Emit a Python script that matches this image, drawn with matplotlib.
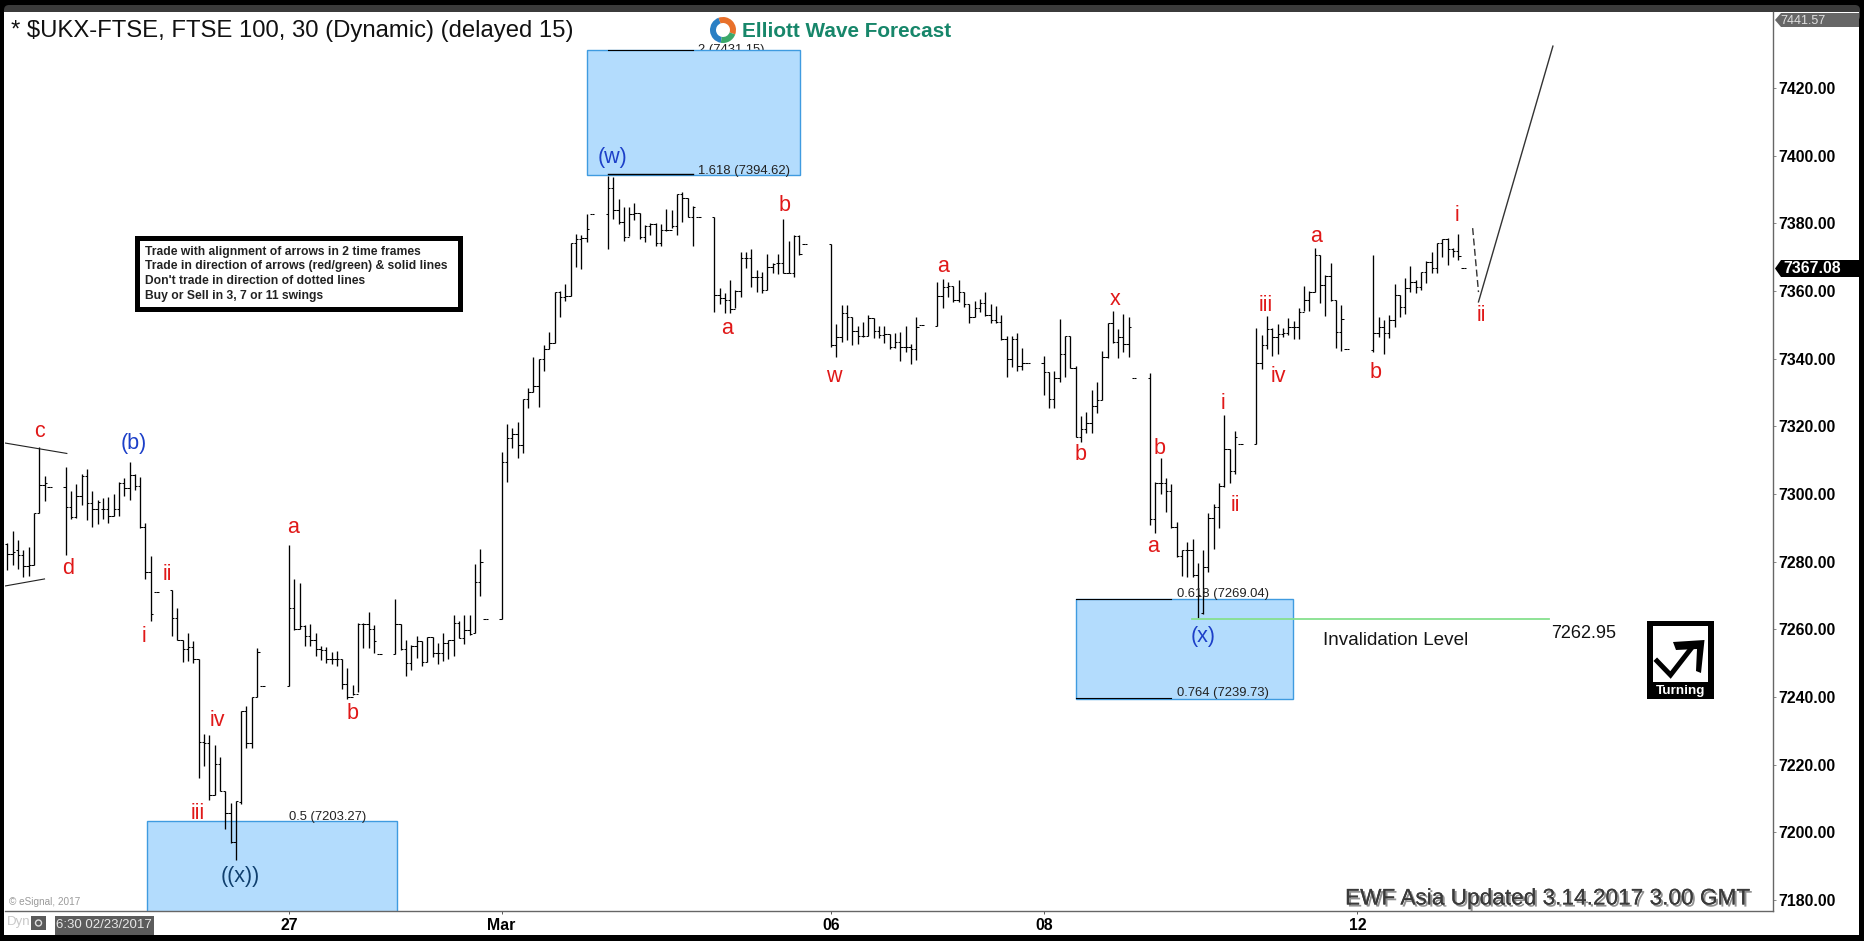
import matplotlib
matplotlib.use("Agg")
import matplotlib.pyplot as plt
import matplotlib.patheffects as pe
from matplotlib.patches import Rectangle, Polygon, Wedge, Circle, FancyBboxPatch
import numpy as np

plt.rcParams["font.family"] = ["Liberation Sans", "DejaVu Sans"]

# one row per trading session, 30 min bars
session_start = [-53, -42, -22, 0, 20, 40, 60, 80, 102, 122, 142, 162, 182, 204]
session_len = [9, 18, 18, 18, 18, 18, 18, 18, 18, 18, 18, 18, 18, 18]

bar_high = [
    7285.5, 7289, 7286.4, 7283.4, 7284.2, 7294.5, 7313.8, 7305.4, 7302,
    7307.9, 7300.8, 7303, 7305.9, 7307.4, 7300.8, 7298.2, 7298.9, 7299.2, 7300.1, 7303.5, 7304.7, 7309.6, 7305.9, 7305.1, 7291.4, 7281.7, 7271.1,
    7271.5, 7266.3, 7256.9, 7258.9, 7256.7, 7251.1, 7229.1, 7228.9, 7225.8, 7222.2, 7212.3, 7208.7, 7209.2, 7236, 7237.2, 7239.9, 7254.4, 7243.4,
    7285, 7274.8, 7273.7, 7261.3, 7261.5, 7258.9, 7255, 7254.8, 7253.3, 7253.5, 7251.1, 7248.7, 7243.6, 7262, 7262, 7265.1, 7261.3, 7252.6,
    7269.1, 7261.6, 7257, 7255.4, 7258, 7256.7, 7257.8, 7257.6, 7256.1, 7258.8, 7257, 7264.1, 7262.6, 7264.1, 7264.1, 7279.3, 7283.9, 7263.1,
    7312.5, 7320.6, 7319.4, 7321.4, 7328.1, 7331.2, 7340.4, 7339.8, 7344.2, 7347.8, 7359.8, 7360, 7362, 7374.1, 7376.9, 7376.6, 7382.7, 7382.7,
    7394.1, 7393.8, 7387.1, 7384.7, 7384.9, 7386.1, 7383.2, 7379.5, 7380.2, 7380.2, 7379.8, 7384.4, 7383.9, 7388.7, 7389.2, 7387.6, 7385.2, 7382,
    7382, 7360.8, 7359.3, 7363.2, 7360.3, 7371.4, 7371.4, 7372.3, 7366.2, 7365.5, 7370.9, 7368.2, 7371.1, 7381.3, 7374.9, 7376.7, 7376.5, 7373.8,
    7373.9, 7350.3, 7355.9, 7355.9, 7352.2, 7349.7, 7351, 7352.9, 7351.9, 7349.7, 7349.7, 7347.3, 7347.7, 7348, 7349.7, 7344.3, 7352.2, 7349.9,
    7362.7, 7363.5, 7362.6, 7361.6, 7363.3, 7359.7, 7356.1, 7357.1, 7357.6, 7359.6, 7356.2, 7355.6, 7352.9, 7346.8, 7346.7, 7347.5, 7343.1, 7338.6,
    7340.8, 7336.2, 7336.4, 7351.7, 7346.8, 7346.7, 7337.8, 7323.1, 7324.3, 7330.8, 7333, 7342.3, 7350.7, 7354.1, 7348.7, 7353.2, 7352.2, 7334.2,
    7335.9, 7303.6, 7310.8, 7304.6, 7302.9, 7291.8, 7283.5, 7285.9, 7286.6, 7279.5, 7283.5, 7294.3, 7297, 7303.4, 7323.3, 7313.3, 7318.6, 7314.7,
    7349, 7347, 7352.6, 7349, 7350.4, 7349, 7351.9, 7351.2, 7354.9, 7361.5, 7360.1, 7372.6, 7370.6, 7364.7, 7368.2, 7357.5, 7355.9, 7342.8,
    7370.8, 7352.4, 7351.4, 7352.9, 7362.1, 7358.8, 7364, 7367.4, 7363.3, 7365.7, 7368.9, 7371.6, 7374.1, 7375.3, 7375.6, 7372.6, 7377, 7366.7,
]
bar_low = [
    7277.6, 7279, 7277.8, 7275.6, 7275.8, 7279.1, 7294.3, 7298, 7302,
    7281.9, 7292.6, 7292.9, 7296.9, 7292.4, 7290.4, 7291.1, 7292.6, 7291.3, 7293.6, 7293.6, 7299.4, 7298.2, 7301.3, 7290.1, 7274.8, 7262.5, 7271.1,
    7258.1, 7256.9, 7250.3, 7250.5, 7250.1, 7216.1, 7219.7, 7209.5, 7211, 7212.2, 7201.1, 7196.9, 7191.9, 7208.5, 7224.8, 7224.8, 7239.9, 7243.4,
    7243.3, 7259.8, 7260, 7255.2, 7255.2, 7252.1, 7250.8, 7250.1, 7249.8, 7249.3, 7242.5, 7239.3, 7240.6, 7241.6, 7254.6, 7254.6, 7253.1, 7252.6,
    7252.6, 7253.9, 7246.2, 7248, 7251.4, 7249.3, 7250.4, 7251.9, 7249.8, 7250.7, 7251.3, 7252.2, 7257.3, 7255.6, 7258.3, 7258.8, 7270, 7263.1,
    7263.1, 7303.6, 7313.5, 7310.7, 7312, 7325.3, 7330.2, 7325.8, 7336.5, 7342.8, 7344.7, 7352.4, 7357.1, 7358.6, 7367.2, 7366.4, 7374.4, 7382.7,
    7372.3, 7381.2, 7379.8, 7374.9, 7376.2, 7381, 7375.3, 7374.6, 7376.5, 7373.4, 7373.4, 7377.8, 7378.5, 7376.7, 7380.5, 7381.8, 7373.4, 7382,
    7353.9, 7356.3, 7353.4, 7353.4, 7354.9, 7358.1, 7366.7, 7361.1, 7359.8, 7359.3, 7360.3, 7365.2, 7365, 7365.4, 7365.4, 7364.2, 7370.6, 7373.8,
    7343.4, 7340.6, 7345, 7345.5, 7344.1, 7344.3, 7346.3, 7346.7, 7346.2, 7346, 7344.7, 7342.8, 7343.1, 7339.4, 7342.1, 7338.4, 7339.6, 7349.9,
    7349.8, 7355.1, 7358.1, 7356.8, 7356.9, 7355.4, 7350.7, 7352.4, 7353.7, 7352.7, 7350.5, 7350.7, 7345.5, 7334.7, 7337.7, 7336.5, 7336.7, 7338.6,
    7329.3, 7325.5, 7325.3, 7333.2, 7334.7, 7337.2, 7317, 7315.5, 7317.9, 7317.9, 7324.1, 7327.8, 7340.1, 7344.7, 7340.1, 7342.1, 7340.6, 7334.2,
    7290.8, 7288.4, 7299.9, 7294.6, 7290.1, 7281.3, 7275.8, 7275.6, 7275.6, 7263.3, 7264.5, 7277, 7283.7, 7289.9, 7302.2, 7303.4, 7305.9, 7314.7,
    7314.7, 7337.1, 7342.9, 7340.9, 7341.4, 7346.5, 7347, 7345.8, 7345.8, 7354.1, 7354.1, 7359.6, 7356.6, 7352.6, 7357.1, 7343.3, 7342.4, 7342.8,
    7342.1, 7346.5, 7341.4, 7346, 7349.5, 7352.2, 7353.2, 7359.8, 7359.5, 7360.3, 7362.3, 7365.4, 7365.4, 7370, 7367.7, 7370, 7369.2, 7366.7,
]
bar_open = [
    7285.2, 7282.4, 7283.4, 7281.9, 7278.8, 7279.1, 7294.3, 7302.6, 7302,
    7302, 7296.2, 7293.1, 7299.4, 7305.2, 7297.4, 7295.7, 7295.7, 7295.7, 7293.6, 7295.7, 7303.3, 7301.8, 7305.6, 7302.3, 7290.3, 7277, 7271.1,
    7271.5, 7263.5, 7256.9, 7254.2, 7254.8, 7251.3, 7226.6, 7226.3, 7211, 7220.2, 7212.3, 7205.8, 7197.2, 7209, 7236, 7226.3, 7239.9, 7243.4,
    7243.3, 7266.2, 7260, 7261, 7257.9, 7256.9, 7254.2, 7253.8, 7251.3, 7251.3, 7251.1, 7243.8, 7240.1, 7241, 7261.7, 7261.5, 7260, 7252.6,
    7252.6, 7261.5, 7254.2, 7250, 7255.2, 7256.7, 7250.4, 7257.6, 7252.9, 7252.9, 7255.9, 7256.8, 7261.8, 7257.3, 7259.8, 7258.8, 7273.9, 7263.1,
    7263.1, 7309.4, 7316.5, 7317.6, 7314.5, 7328, 7330.2, 7331.9, 7339.8, 7342.8, 7344.7, 7359.8, 7358.3, 7358.6, 7374.1, 7375.3, 7375.6, 7382.7,
    7382.7, 7390.6, 7383.9, 7380.5, 7375.9, 7382.9, 7383.2, 7375.9, 7379.2, 7379.8, 7374.1, 7378, 7378, 7379.3, 7388.7, 7387.6, 7381.8, 7382,
    7382, 7358.8, 7358, 7357.3, 7354.7, 7360, 7369.9, 7369.9, 7364.2, 7364.2, 7360.3, 7367, 7368.2, 7368.2, 7365.4, 7365.4, 7376.2, 7373.8,
    7373.9, 7344, 7346.3, 7353.4, 7352.2, 7348.3, 7346.7, 7346.7, 7351.9, 7348.3, 7347, 7347.2, 7343.6, 7344.9, 7343.6, 7343.4, 7342.9, 7349.9,
    7349.8, 7358.5, 7361.3, 7361.6, 7357.4, 7359.7, 7356.1, 7352.4, 7354.9, 7356.6, 7352.9, 7351.4, 7350.9, 7345.7, 7339.8, 7345.7, 7337.9, 7338.6,
    7338.6, 7336.2, 7328.1, 7334.2, 7341.3, 7346.7, 7337.2, 7317, 7319.1, 7320.9, 7326, 7327.8, 7340.6, 7350.5, 7345, 7346.3, 7344.3, 7334.2,
    7334.2, 7292.5, 7303.4, 7303.4, 7300.9, 7290.2, 7281.7, 7283.5, 7283.5, 7276.1, 7264.7, 7278.3, 7292.8, 7296.3, 7302.4, 7313.3, 7306.9, 7314.7,
    7314.7, 7338.6, 7344, 7348.7, 7346.3, 7347.3, 7347.7, 7349.3, 7349.5, 7353.9, 7357.3, 7359.8, 7370.6, 7361.8, 7364.5, 7357.5, 7348, 7342.8,
    7342.6, 7347.7, 7349.5, 7347.5, 7351.4, 7358.8, 7355.4, 7360.8, 7362.8, 7361.3, 7365.5, 7368.5, 7366.9, 7374.1, 7375.3, 7372.3, 7371.9, 7366.7,
]
bar_close = [
    7282.4, 7282.9, 7281.9, 7278.8, 7279.1, 7294.3, 7302.6, 7303.3, 7302,
    7296.2, 7293.1, 7299.4, 7305.2, 7297.4, 7295.7, 7297.7, 7295.7, 7293.6, 7295.7, 7303.3, 7301.8, 7305.6, 7302.3, 7290.3, 7277, 7264.6, 7271.1,
    7263.5, 7256.9, 7254.2, 7254.8, 7251.3, 7226.6, 7226.3, 7211, 7220.2, 7212.3, 7205.8, 7197.2, 7209.2, 7236, 7226.3, 7239.9, 7253.3, 7243.4,
    7266.2, 7260, 7261, 7257.9, 7256.9, 7254.2, 7253.8, 7251.3, 7251.3, 7251.1, 7243.8, 7240.1, 7241, 7261.7, 7261.5, 7260, 7256.5, 7252.6,
    7261.5, 7254.2, 7250, 7255.2, 7256.7, 7250.4, 7257.6, 7252.9, 7252.9, 7255.9, 7256.8, 7261.8, 7257.3, 7259.8, 7258.6, 7273.9, 7280, 7263.1,
    7309.4, 7316.5, 7317.6, 7314.5, 7328, 7330.2, 7331.9, 7339.8, 7342.8, 7344.7, 7359.8, 7358.3, 7358.6, 7374.1, 7375.3, 7375.6, 7378.2, 7382.7,
    7390.6, 7383.9, 7380.5, 7375.9, 7382.9, 7383.2, 7375.9, 7379.2, 7379.8, 7374.1, 7378, 7378, 7379.3, 7388.7, 7387.6, 7381.8, 7384.7, 7382,
    7358.8, 7358, 7357.3, 7354.7, 7360, 7369.9, 7369.9, 7364.2, 7364.2, 7360.3, 7367, 7368, 7368.2, 7365.4, 7365.4, 7376.2, 7371.1, 7373.8,
    7344, 7346.3, 7353.4, 7352.2, 7348.3, 7346.7, 7346.7, 7351.9, 7348.3, 7347, 7347.2, 7343.6, 7344.9, 7343.6, 7343.4, 7342.9, 7349.3, 7349.9,
    7358.5, 7361.3, 7361.6, 7357.4, 7359.7, 7356.1, 7352.4, 7354.9, 7356.6, 7352.9, 7351.4, 7350.9, 7345.7, 7339.8, 7345.7, 7337.9, 7338.6, 7338.6,
    7336.2, 7328.1, 7334.2, 7341.3, 7346.7, 7337.2, 7317, 7319.1, 7320.9, 7326, 7327.8, 7340.6, 7350.5, 7345, 7346.3, 7344.3, 7349.3, 7334.2,
    7292.5, 7303.4, 7303.4, 7300.9, 7290.2, 7281.7, 7283.5, 7283.5, 7276.1, 7270.2, 7278.3, 7292.8, 7296.3, 7302.4, 7313.3, 7306.9, 7317, 7314.7,
    7338.6, 7344, 7348.7, 7346.3, 7347.3, 7347.7, 7349.3, 7349.5, 7353.9, 7357.3, 7359.8, 7370.6, 7361.8, 7364.5, 7357.5, 7348, 7351.7, 7342.8,
    7347.7, 7349.5, 7347.5, 7351.4, 7358.8, 7355.4, 7360.8, 7362.8, 7361.3, 7365.5, 7368.5, 7366.9, 7374.1, 7375.3, 7372.3, 7371.9, 7370.4, 7366.7,
]

# wave count labels
red_labels = ["c", "d", "ii", "i", "a", "iv", "b", "iii", "a", "b", "w", "a", "b", "x", "b", "a", "i", "ii", "iii", "iv", "a", "b", "i", "ii"]
red_idx = [-47, -41.6, -22.8, -27.3, 0.8, -13.5, 11.9, -17.1, 82.4, 93.3, 102.5, 123, 149, 155.4, 163.7, 162.6, 175.7, 178, 183.8, 186.1, 193.2, 204.5, 219.8, 224.3]
red_price = [7318.4, 7277.9, 7276.3, 7258, 7290.1, 7233, 7235.1, 7205.5, 7348.9, 7385.2, 7334.7, 7367.2, 7311.6, 7357.5, 7313.4, 7284.4, 7326.7, 7296.6, 7355.7, 7334.7, 7376.1, 7335.9, 7382.3, 7352.7]
blue_labels = ["(b)", "(w)", "(x)"]
blue_idx = [-29.2, 60.8, 172]
blue_price = [7314.8, 7399.4, 7258]

# fib boxes: left idx, right idx, low, high
box_left = [-26.8, 56.1, 148]
box_right = [20.3, 96.1, 188.9]
box_low = [7170, 7394.2, 7239.4]
box_high = [7203.27, 7431.15, 7269.04]
fib_text = ["0.5 (7203.27)", "1.618 (7394.62)", "0.618 (7269.04)", "0.764 (7239.73)"]
fib_idx = [0, 77, 167, 167]
fib_price = [7204.6, 7395.5, 7270.4, 7241.2]

xtick_pos = [0, 40, 102, 142, 201]
xtick_labels = ["27", "Mar", "06", "08", "12"]
ytick_pos = list(range(7180, 7421, 20))

W, H = 1864, 941
fig = plt.figure(figsize=(W / 100, H / 100), dpi=100, facecolor="black")

# window frame behind the chart
bg = fig.add_axes([0, 0, 1, 1], zorder=-1)
bg.set_xlim(0, W)
bg.set_ylim(H, 0)
bg.axis("off")
bg.add_patch(FancyBboxPatch((7, 8), 1850, 10, boxstyle="round,pad=3,rounding_size=5", fc="#3b3b3b", ec="none"))
bg.add_patch(Rectangle((4, 12), 1855, 923, fc="white", ec="none"))

left, right, top, bottom = 4.7, 1773, 12, 911
ax = fig.add_axes([left / W, 1 - bottom / H, (right - left) / W, (bottom - top) / H], zorder=1)
ax.set_xlim((left - 289) / 5.315, (right - 289) / 5.315)
ax.set_ylim(7180 + (900 - bottom) / 3.383, 7180 + (900 - top) / 3.383)

for s in ["top", "left"]:
    ax.spines[s].set_visible(False)
for s in ["right", "bottom"]:
    ax.spines[s].set_color("#666666")
    ax.spines[s].set_linewidth(1)

ax.yaxis.tick_right()
ax.set_yticks(ytick_pos)
ax.set_yticklabels([f"{v:.2f}" for v in ytick_pos], fontsize=11.4, fontweight="bold")
ax.tick_params(axis="y", length=2.2, width=0.7, color="#888888", pad=1.4)
ax.set_xticks(xtick_pos)
ax.set_xticklabels(xtick_labels, fontsize=11.4, fontweight="bold")
ax.tick_params(axis="x", length=2.2, width=0.7, color="#555555", pad=3)

# bars
bar_x = np.concatenate([np.arange(st, st + n) for st, n in zip(session_start, session_len)])
ax.vlines(bar_x, bar_low, bar_high, color="black", lw=0.95, zorder=3)
ax.hlines(bar_open, bar_x - 0.45, bar_x, color="black", lw=0.75, zorder=3)
ax.hlines(bar_close, bar_x, bar_x + 0.45, color="black", lw=0.75, zorder=3)

# text half hidden by the top box
ax.text(77, 7431.4, "2 (7431.15)", fontsize=9.4, color="#222222", va="center", zorder=1)

for l, r, lo, hi in zip(box_left, box_right, box_low, box_high):
    ax.add_patch(Rectangle((l, lo), r - l, hi - lo, fc="#b3dcfd", ec="#3f9be0", lw=1, zorder=2))
ax.plot([60, 76], [7431.15, 7431.15], color="black", lw=0.8, zorder=2.5)
ax.plot([60, 76], [7394.62, 7394.62], color="black", lw=1, zorder=2.5)
ax.plot([148, 166], [7269.04, 7269.04], color="black", lw=0.8, zorder=2.5)
ax.plot([148, 166], [7239.73, 7239.73], color="black", lw=0.8, zorder=2.5)

for t, x, y in zip(fib_text, fib_idx, fib_price):
    ax.text(x, y, t, fontsize=9.4, color="#222222", va="center", zorder=4)

# triangle and projection lines
ax.plot([-53.5, -41.8], [7315.1, 7312], color="#222222", lw=0.8, zorder=3)
ax.plot([-53.5, -46], [7272.8, 7274.9], color="#222222", lw=0.8, zorder=3)
ax.plot([222.7, 223.8], [7378.6, 7359.7], color="#333333", lw=1, ls=(0, (5, 2.5)), zorder=3)
ax.plot([223.8, 237.8], [7356.8, 7432.4], color="#333333", lw=1, zorder=3)

# invalidation level
ax.plot([169.9, 237], [7262.95, 7262.95], color="#86e08e", lw=1.3, zorder=3)
ax.text(194.5, 7256.6, "Invalidation Level", fontsize=13.6, color="#151515", va="center", zorder=4)
ax.text(237.4, 7258.7, "7262.95", fontsize=13, color="#111111", va="center", zorder=4)

for t, x, y in zip(red_labels, red_idx, red_price):
    ax.text(x, y, t, fontsize=15.5, color="#e01818", ha="center", va="center", zorder=4)
for t, x, y in zip(blue_labels, blue_idx, blue_price):
    ax.text(x, y, t, fontsize=15.5, color="#1c3fc8", ha="center", va="center", zorder=4)
ax.text(-9.2, 7186.8, "((x))", fontsize=15.5, color="#0f3f6e", ha="center", va="center", zorder=4)

# things pinned to the window, in pixels
top_ax = fig.add_axes([0, 0, 1, 1], zorder=5)
top_ax.set_xlim(0, W)
top_ax.set_ylim(H, 0)
top_ax.axis("off")
top_ax.patch.set_alpha(0)

top_ax.text(11, 31, "* $UKX-FTSE, FTSE 100, 30 (Dynamic) (delayed 15)", fontsize=17.2, color="#111111", va="center")

# logo
top_ax.add_patch(Wedge((723, 30), 13, 100, 250, width=6, fc="#2a7fc4", ec="none"))
top_ax.add_patch(Wedge((723, 30), 13, 250, 20, width=6, fc="#e8702a", ec="none"))
top_ax.add_patch(Wedge((723, 30), 13, 20, 100, width=6, fc="#3aa86a", ec="none"))
top_ax.add_patch(Circle((723, 30), 6, fc="white", ec="none"))
top_ax.text(742, 31, "Elliott Wave Forecast", fontsize=14.95, fontweight="bold", color="#17866a", va="center")

# rules box
top_ax.add_patch(Rectangle((136.5, 238), 323, 71, fc="white", ec="black", lw=3.6))
rules = ["Trade with alignment of arrows in 2 time frames",
         "Trade in direction of arrows (red/green) & solid lines",
         "Don't trade in direction of dotted lines",
         "Buy or Sell in 3, 7 or 11 swings"]
for i, line in enumerate(rules):
    top_ax.text(145, 251.5 + i * 14.7, line, fontsize=8.77, fontweight="bold", color="#222222", va="center")

# last price flags on the axis
top_ax.add_patch(Polygon([(1775, 20), (1781, 13), (1859, 13), (1859, 27), (1781, 27)], fc="#666666", ec="none"))
top_ax.text(1780, 20.5, "7441.57", fontsize=9, color="#e0e0e0", va="center")
top_ax.add_patch(Polygon([(1775, 268.5), (1781, 260), (1859, 260), (1859, 277), (1781, 277)], fc="black", ec="none"))
top_ax.text(1783, 268.5, "7367.08", fontsize=11.4, fontweight="bold", color="white", va="center")

# turning icon
top_ax.add_patch(Rectangle((1647, 621), 67, 78, fc="black", ec="none"))
top_ax.add_patch(Rectangle((1652.5, 626), 55.5, 55.7, fc="white", ec="none"))
top_ax.plot([1657, 1670.5, 1693], [661, 675, 646], color="black", lw=3.6, solid_joinstyle="miter")
top_ax.add_patch(Polygon([(1673, 642), (1704.5, 640), (1701, 673), (1696, 671), (1697, 649), (1676, 650)], fc="black", ec="none"))
top_ax.text(1680.5, 691, "Turning", fontsize=9.7, fontweight="bold", color="white", ha="center", va="center")

# update stamp with soft shadow
top_ax.text(1345, 898, "EWF Asia Updated 3.14.2017 3.00 GMT", fontsize=16.3, color="#3a3a3a", va="center",
            path_effects=[pe.withSimplePatchShadow(offset=(1.5, -1.5), shadow_rgbFace="#777777", alpha=0.8), pe.Normal()])

# bottom left bits
top_ax.text(9, 902, "© eSignal, 2017", fontsize=7.2, color="#9a9a9a", va="center")
top_ax.text(7, 922, "Dyn", fontsize=9.5, color="#c8c8c8", va="center")
top_ax.add_patch(Rectangle((31, 915.5), 15, 14.5, fc="#5a5a5a", ec="none"))
top_ax.add_patch(Circle((38.5, 923), 3, fc="none", ec="#dddddd", lw=1))
top_ax.add_patch(Rectangle((55, 916), 99, 19, fc="#5c5c5c", ec="none"))
top_ax.text(56.5, 925.5, "6:30 02/23/2017", fontsize=9.5, color="#e8e8e8", va="center")

fig.savefig("out.png", dpi=100, facecolor="black")
